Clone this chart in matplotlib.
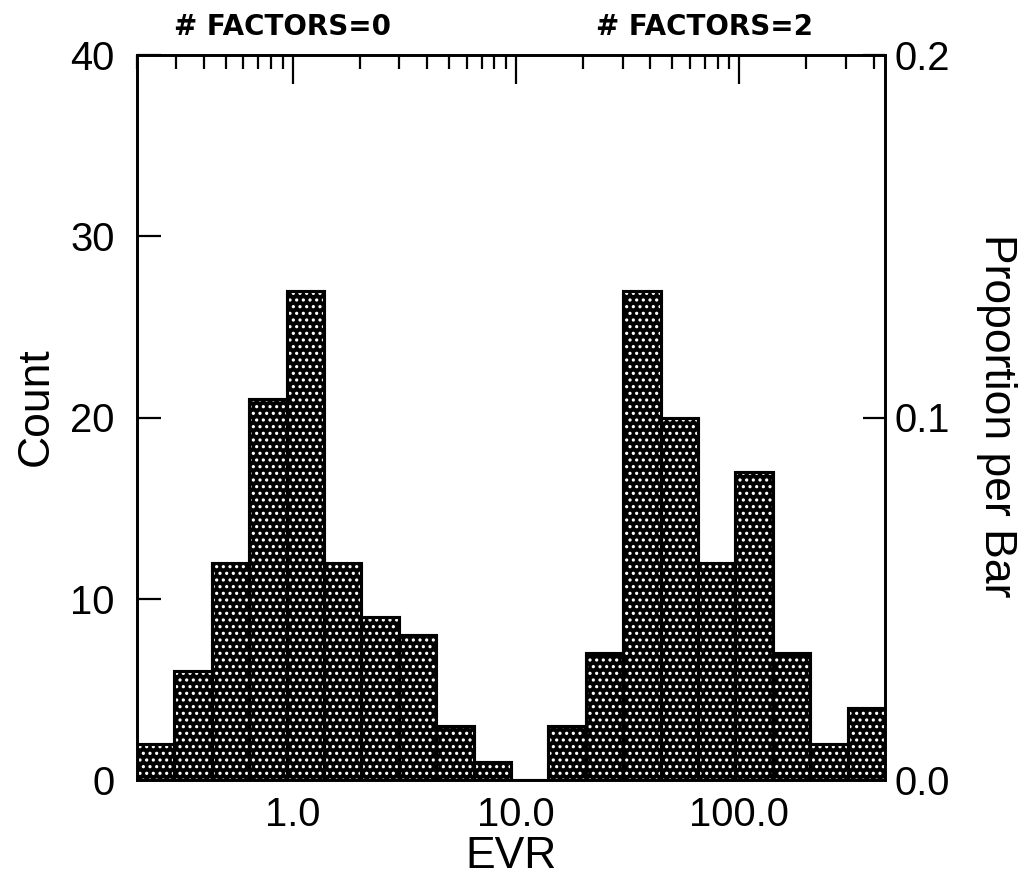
import numpy as np
import matplotlib
matplotlib.use("Agg")
import matplotlib.pyplot as plt
from matplotlib.ticker import FixedLocator, LogLocator, NullFormatter, FuncFormatter

# histogram: 20 log-spaced bins between the axis limits
evr_min, evr_max = 0.2, 450.0
counts = [2, 6, 12, 21, 27, 12, 9, 8, 3, 1,
          0,
          3, 7, 27, 20, 12, 17, 7, 2, 4]
x_ticks = [1.0, 10.0, 100.0]
y_ticks = [0, 10, 20, 30, 40]
p_ticks = [0.0, 0.1, 0.2]
group_labels = ["# FACTORS=0", "# FACTORS=2"]

edges = np.geomspace(evr_min, evr_max, len(counts) + 1)
total = sum(counts)

DPI = 80
plt.rcParams['font.family'] = ['Liberation Sans', 'DejaVu Sans']
plt.rcParams['hatch.linewidth'] = 1.7

fig = plt.figure(figsize=(1021 / DPI, 893 / DPI), dpi=DPI)
ax = fig.add_axes([137 / 1021, 1 - 780 / 893, 748 / 1021, 725 / 893])

ax.set_xscale('log')
# dotted fill: black face with white dot hatch, then black outlines on top
ax.bar(edges[:-1], counts, width=np.diff(edges), align='edge',
       facecolor='black', edgecolor='white', hatch='..', linewidth=0)
ax.bar(edges[:-1], counts, width=np.diff(edges), align='edge',
       fill=False, edgecolor='black', linewidth=2.8)

ax.set_xlim(evr_min, evr_max)
ax.set_ylim(0, 40)

ax.xaxis.set_major_locator(FixedLocator(x_ticks))
ax.xaxis.set_major_formatter(FuncFormatter(lambda v, p: "%.1f" % v))
ax.xaxis.set_minor_locator(LogLocator(base=10, subs=range(2, 10)))
ax.xaxis.set_minor_formatter(NullFormatter())
ax.tick_params(axis='x', which='both', bottom=False, top=True, direction='in',
               labelbottom=True, labeltop=False, width=2, labelsize=36)
ax.tick_params(axis='x', which='major', length=26, pad=14)
ax.tick_params(axis='x', which='minor', length=13)

ax.set_yticks(y_ticks)
ax.tick_params(axis='y', direction='in', length=22, width=2, labelsize=36, pad=20)

for s in ax.spines.values():
    s.set_linewidth(2.4)

ax2 = ax.twinx()
ax2.set_ylim(0, 40 / total)
ax2.set_yticks(p_ticks)
ax2.set_yticklabels(["%.1f" % v for v in p_ticks])
ax2.tick_params(axis='y', direction='in', length=20, width=2, labelsize=36, pad=9)
for s in ax2.spines.values():
    s.set_linewidth(2.4)

fig.text(36 / 1021, 1 - 407 / 893, "Count", rotation=90, ha='center', va='center', fontsize=40)
fig.text(996 / 1021, 1 - 416 / 893, "Proportion per Bar", rotation=270,
         ha='center', va='center', fontsize=40)
fig.text(511 / 1021, 1 - 857 / 893, "EVR", ha='center', va='center', fontsize=40)

fig.text(283 / 1021, 1 - 35 / 893, group_labels[0], ha='center', va='baseline',
         fontsize=25, fontweight='bold', family='DejaVu Sans')
fig.text(704 / 1021, 1 - 35 / 893, group_labels[1], ha='center', va='baseline',
         fontsize=25, fontweight='bold', family='DejaVu Sans')

fig.savefig("out.png", dpi=DPI)
